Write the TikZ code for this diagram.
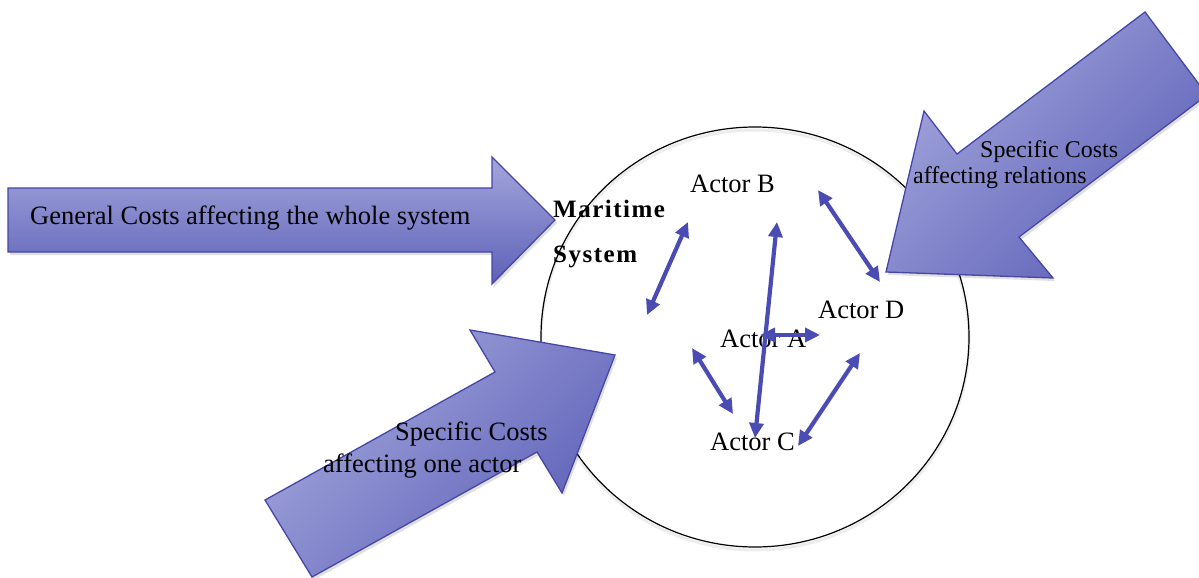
\documentclass[tikz,border=0pt]{standalone}
\usepackage{fontspec}
\setmainfont{Liberation Serif}
\newfontfamily\spacedserif[LetterSpace=6]{Liberation Serif}
\usetikzlibrary{arrows.meta,shapes.geometric}

\definecolor{arrowlight}{HTML}{A3A6DB}
\definecolor{arrowdark}{HTML}{5E61B8}
\definecolor{arrowedge}{HTML}{4646A8}
\definecolor{linkblue}{HTML}{4B4CB3}

\begin{document}
\begin{tikzpicture}[x=1pt,y=-1pt,
  lbl/.style={font=\fontsize{26.5}{30}\selectfont, inner sep=0pt, anchor=base west},
  smalllbl/.style={font=\fontsize{24}{28}\selectfont, inner sep=0pt, anchor=base west},
  titlelbl/.style={font=\fontsize{25}{30}\selectfont\spacedserif\bfseries, inner sep=0pt, anchor=base west},
  bigarrow/.style={draw=arrowedge, line width=1.3pt, line join=miter,
    top color=arrowlight, bottom color=arrowdark, shading angle=#1},
  bigarrow/.default=0,
  arrowshadow/.style={fill=black, opacity=0.12, xshift=2pt, yshift=-3pt},
  link/.style={draw=linkblue, line width=4.2pt,
    {Triangle[length=15pt,width=14pt]}-{Triangle[length=15pt,width=14pt]}},
]
\useasboundingbox (0,0) rectangle (1199,578);
\clip (0,0) rectangle (1199,578);

% the maritime system
\node (sysshadow) [ellipse, draw=gray!40, line width=3pt, opacity=0.35,
  minimum width=428pt, minimum height=420pt, inner sep=0pt] at (755,340) {};
\node (sys) [ellipse, draw=black, line width=1.2pt,
  minimum width=428pt, minimum height=420pt, inner sep=0pt] at (755,337) {};

% cost arrows: shadows first
\fill[arrowshadow] (8,188) -- (492,188) -- (492,157) -- (555,220) -- (492,284) -- (492,252) -- (8,252) -- cycle;
\fill[arrowshadow] (886,272) -- (924,111) -- (957,154) -- (1145,12) -- (1207,95) -- (1019,237) -- (1053,278) -- cycle;
\fill[arrowshadow] (265,500) -- (495,372) -- (470,330) -- (615,355) -- (562,493) -- (537,452) -- (312,577) -- cycle;

% general costs
\path[bigarrow=0] (8,188) -- (492,188) -- (492,157) -- (555,220) -- (492,284) -- (492,252) -- (8,252) -- cycle;
% costs affecting relations
\path[bigarrow=45] (886,272) -- (924,111) -- (957,154) -- (1145,12) -- (1207,95) -- (1019,237) -- (1053,278) -- cycle;
% costs affecting one actor
\path[bigarrow=45] (265,500) -- (495,372) -- (470,330) -- (615,355) -- (562,493) -- (537,452) -- (312,577) -- cycle;

% texts on the cost arrows
\node[lbl] (gen) at (30,224) {General Costs affecting the whole system};
\node[smalllbl] (rel1) at (980,157) {Specific Costs};
\node[smalllbl] (rel2) at (913,183) {affecting relations};
\node[lbl] (one1) at (395,440) {Specific Costs};
\node[lbl] (one2) at (323,472) {affecting one actor};

% system title
\node[titlelbl] (mar) at (553,217) {Maritime};
\node[titlelbl] (sysname) at (553,262) {System};

% actors
\node[lbl] (actB) at (690,192) {Actor B};
\node[lbl] (actD) at (818,318) {Actor D};
\node[lbl] (actA) at (720,347) {Actor A};
\node[lbl] (actC) at (710,450) {Actor C};

% relation ends
\coordinate (l1a) at (688,222); \coordinate (l1b) at (647,315);
\coordinate (l2a) at (777,222); \coordinate (l2b) at (755,438);
\coordinate (l3a) at (818,190); \coordinate (l3b) at (880,282);
\coordinate (l4a) at (760,335); \coordinate (l4b) at (820,335);
\coordinate (l5a) at (692,348); \coordinate (l5b) at (733,414);
\coordinate (l6a) at (860,353); \coordinate (l6b) at (798,446);

% relations between actors
\draw[link] (l1a) -- (l1b);
\draw[link] (l2a) -- (l2b);
\draw[link] (l3a) -- (l3b);
\draw[link] (l4a) -- (l4b);
\draw[link] (l5a) -- (l5b);
\draw[link] (l6a) -- (l6b);
\end{tikzpicture}
\end{document}
